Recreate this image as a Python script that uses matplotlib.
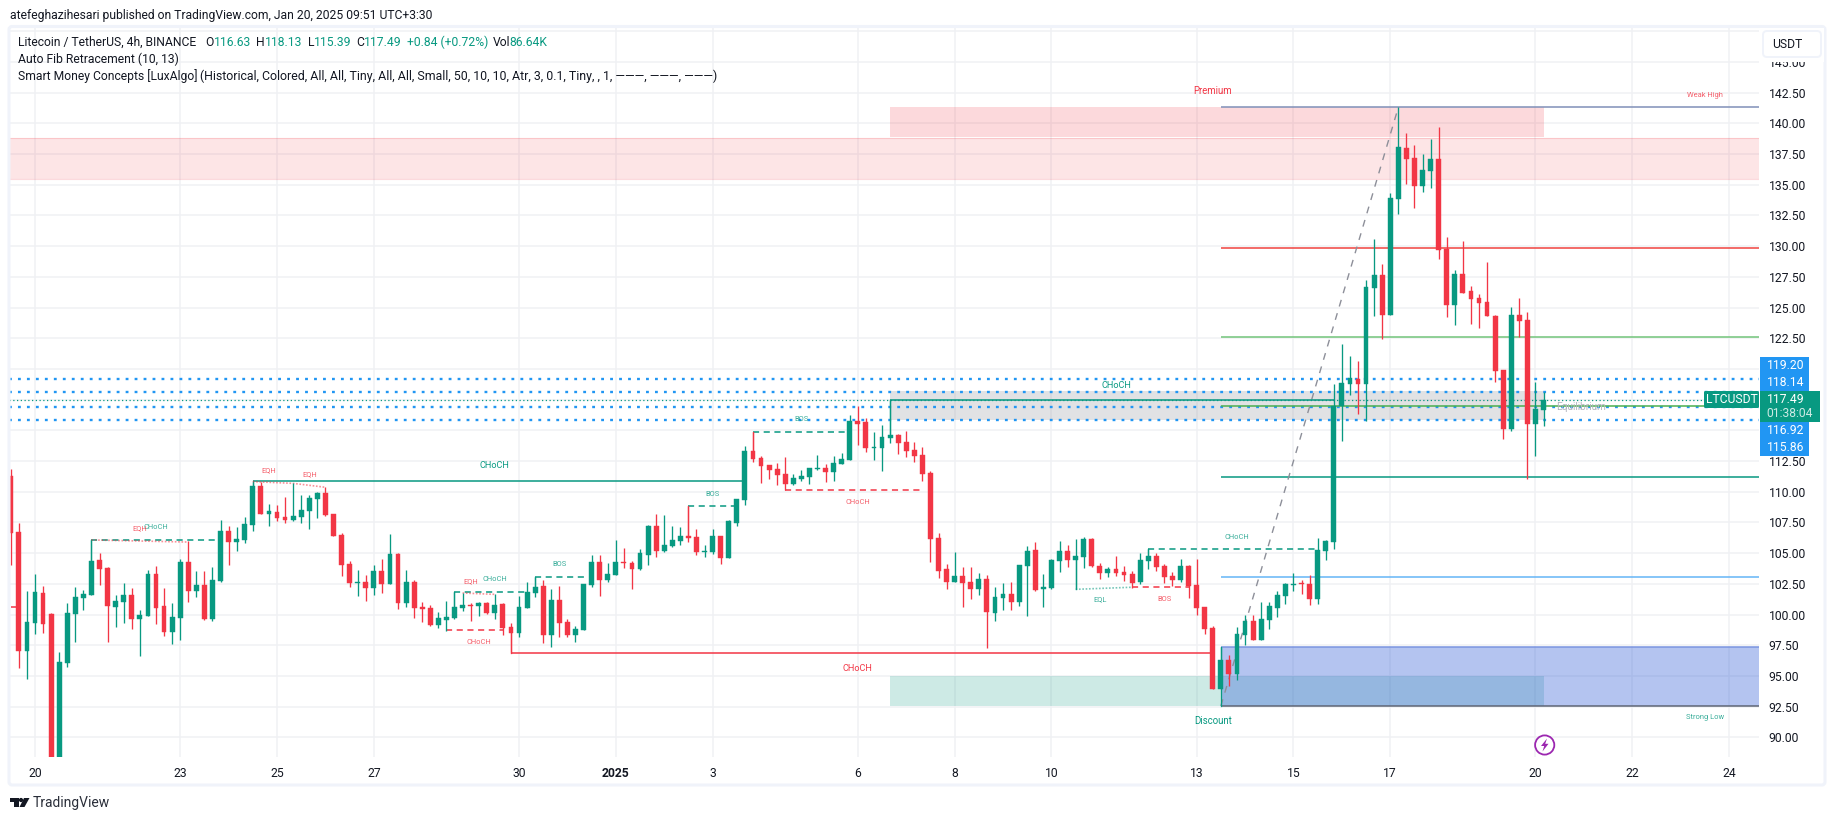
import numpy as np
import matplotlib
matplotlib.use("Agg")
import matplotlib.pyplot as plt
from matplotlib.patches import Rectangle, Circle, Polygon, FancyBboxPatch

plt.rcParams['font.family'] = ['Roboto', 'DejaVu Sans']

# ---- data -------------------------------------------------------------
first_candle = -3   # candles counted from Dec 20 00:00, 4h each
opens = [111.28,106.72,97.06,99.31,101.75,100.04,87.5,96.05,100.04,101.35,101.59,104.44,103.79,100.61,101.02,101.59,99.64,99.88,103.30,100.69,98.58,99.72,104.28,101.92,102.40,99.64,102.73,106.80,105.90,106.07,107.29,110.46,108.18,108.35,107.94,107.70,107.94,108.43,109.41,109.89,108.18,106.48,104.11,102.57,102.65,102.16,103.54,102.48,104.93,100.94,102.65,100.61,100.53,99.15,99.55,99.72,100.53,100.77,100.69,100.94,100.12,100.86,98.98,98.50,100.53,101.75,102.32,98.33,101.18,99.39,98.33,98.74,102.40,104.28,102.81,103.22,
104.28,104.20,103.71,104.85,107.21,105.18,105.58,105.99,106.40,106.32,105.10,105.10,106.40,104.61,107.46,109.33,113.32,112.75,112.18,111.85,111.45,110.63,111.04,111.20,111.85,111.93,111.61,112.26,112.59,115.76,115.68,113.56,113.56,114.38,114.62,114.05,113.40,113.0,111.53,106.24,103.71,102.65,103.14,102.65,102.08,102.90,100.13,101.35,101.68,101.02,103.96,105.26,102.08,102.16,104.36,105.18,104.44,104.69,106.15,103.96,103.39,103.71,103.47,103.30,102.65,104.36,104.77,103.96,103.14,102.82,103.96,102.41,100.62,98.91,
93.94,96.30,95.16,98.34,99.48,97.93,99.56,100.53,101.51,102.41,102.57,102.49,101.27,105.18,105.91,116.98,118.77,119.18,118.77,126.59,127.65,124.39,133.83,137.99,137.17,134.89,136.11,137.09,129.76,125.20,127.73,126.34,125.77,125.45,124.31,119.91,115.10,124.39,123.98,115.51,116.63]
highs = [111.85,107.42,101.92,103.30,102.32,100.12,96.95,100.94,102.24,102.0,106.07,105.01,103.87,101.59,102.57,102.16,100.37,103.63,103.95,102.16,100.94,104.52,105.99,103.54,103.54,103.87,107.70,107.21,107.13,107.94,110.79,110.79,109.0,108.92,109.57,110.71,109.73,109.73,109.98,110.38,108.18,106.64,104.36,103.63,103.22,104.03,104.52,106.56,105.01,103.63,102.81,101.02,100.77,100.21,101.10,101.83,101.75,100.94,101.02,101.02,101.67,100.94,99.31,101.51,102.65,103.05,102.81,102.08,102.32,99.64,99.07,102.48,104.85,104.85,104.20,106.07,
105.42,104.36,105.34,107.29,108.19,108.11,107.21,107.13,108.84,106.97,105.67,106.97,106.40,107.70,109.41,113.73,114.87,112.91,112.18,112.34,112.83,111.45,111.77,111.93,112.99,112.26,112.91,113.16,116.25,116.98,116.01,114.87,115.44,117.47,114.70,114.95,114.05,113.65,111.69,106.64,104.12,105.10,103.87,103.87,103.39,103.22,102.25,102.57,102.65,104.04,105.58,105.91,103.30,104.53,105.99,105.67,106.15,106.32,106.24,104.20,103.87,104.77,103.96,103.55,105.01,105.34,105.01,104.12,103.47,104.53,104.04,104.53,100.62,99.07,
97.33,96.71,98.99,99.96,99.96,101.0,101.0,101.92,102.57,103.38,102.81,103.22,106.23,106.07,118.77,122.03,121.05,120.64,127.24,130.58,128.54,134.32,141.33,139.21,138.23,137.50,138.72,139.70,130.74,128.05,130.42,126.75,126.10,128.71,124.39,119.91,125.04,125.77,124.63,118.93,118.13]
lows = [104.03,95.65,94.75,98.41,98.50,86.5,87.0,95.73,97.76,100.37,101.59,102.40,97.76,98.98,99.31,98.82,96.62,99.88,99.23,98.25,97.60,97.93,101.02,101.43,99.55,99.47,102.65,104.03,105.17,105.82,106.80,108.18,107.21,107.61,107.45,107.61,107.45,106.96,107.86,108.02,106.39,103.14,102.24,101.51,101.10,101.59,101.75,102.48,100.45,100.61,99.72,99.39,99.07,98.90,98.66,99.64,100.29,99.47,99.88,100.04,99.64,98.33,96.84,98.17,100.53,101.43,97.68,97.36,98.17,98.17,97.76,98.74,102.24,101.51,102.65,103.22,
103.79,102.08,103.63,104.04,104.69,105.10,105.50,105.67,105.91,104.85,104.69,104.93,104.12,104.61,107.21,108.92,112.42,110.71,111.04,110.55,110.14,110.55,110.88,110.63,111.77,110.80,110.88,112.26,112.59,113.81,113.24,112.59,111.69,113.97,113.08,112.83,112.42,110.88,104.28,102.98,102.08,102.65,100.62,101.27,101.59,97.28,99.48,100.37,100.37,100.70,99.88,101.92,100.62,102.08,103.47,103.87,102.08,103.79,103.87,102.90,103.06,103.14,102.73,102.16,102.49,103.71,103.55,102.57,102.33,102.65,101.35,99.97,98.42,93.94,
93.94,94.18,94.67,97.52,97.93,97.93,98.83,99.80,100.86,101.92,101.67,100.78,100.86,104.44,105.34,114.13,117.88,116.33,115.76,124.31,122.44,124.39,132.61,135.06,133.10,134.40,134.73,128.95,124.23,123.58,126.18,123.66,123.33,124.31,118.93,114.30,114.94,122.60,111.03,112.90,115.39]
closes = [106.66,97.06,99.39,101.83,99.23,87.5,96.13,100.12,101.43,101.67,104.36,103.71,100.69,101.10,101.59,99.64,99.96,103.30,100.53,98.58,99.80,104.28,101.92,102.40,99.64,102.81,106.80,105.90,106.15,107.37,110.46,108.18,108.43,107.86,107.70,108.02,108.51,109.49,109.89,108.10,106.39,104.03,102.57,102.65,102.16,103.54,102.48,104.93,100.94,102.65,100.53,100.45,99.15,99.72,99.80,100.61,100.77,100.69,100.94,100.12,100.77,98.90,98.50,100.61,101.83,102.24,98.33,101.18,99.31,98.33,98.82,102.48,104.28,102.81,103.30,104.28,
104.20,103.71,105.01,107.21,105.18,105.67,106.07,106.40,106.24,105.10,105.18,106.40,104.61,107.62,109.41,113.32,112.67,112.10,111.77,111.37,110.63,111.12,111.28,111.93,111.93,111.61,112.34,112.67,115.76,115.52,113.56,113.65,114.46,114.62,113.97,113.32,112.91,111.45,106.15,103.55,102.65,103.14,102.57,102.08,102.90,100.21,101.43,101.68,101.02,104.04,105.18,102.0,102.25,104.44,105.18,104.44,104.77,106.15,103.96,103.39,103.71,103.39,103.22,102.57,104.44,104.77,103.87,103.06,102.82,103.96,102.33,100.54,98.83,93.94,
96.30,95.16,98.42,99.48,97.93,99.64,100.70,101.59,102.49,102.49,102.49,101.27,105.26,105.99,116.98,118.85,119.26,118.77,126.67,127.65,124.39,133.92,138.07,137.09,134.89,136.20,137.09,129.68,125.20,127.73,126.18,125.69,125.36,124.31,119.83,115.10,124.39,123.90,115.51,116.73,117.49]

price_ticks = [90, 92.5, 95, 97.5, 100, 102.5, 105, 107.5, 110, 112.5, 115, 117.5, 120, 122.5,
               125, 127.5, 130, 132.5, 135, 137.5, 140, 142.5, 145, 147.5]
hidden_price_labels = [115, 117.5, 120, 147.5]   # covered by tags in the reference
day_offsets = [0, 3, 5, 7, 10, 12, 14, 17, 19, 21, 24, 26, 28, 31, 33, 35]
day_labels = ['20', '23', '25', '27', '30', '2025', '3', '6', '8', '10', '13', '15', '17', '20', '22', '24']

GREEN, RED = '#089981', '#f23645'
blue_levels = [119.20, 118.14, 116.92, 115.86]
last_price = 117.49

# zones: start candle, end candle, low, high, colour, alpha
zones = [
    (-3.3, 214, 135.44, 138.78, RED, 0.13),
    (106, 187, 138.9, 141.3, RED, 0.19),
    (106, 187, 115.84, 118.2, '#787b86', 0.22),
    (106, 187, 92.55, 95.0, GREEN, 0.2),
    (147, 214, 92.55, 97.33, '#3a64d8', 0.38),
]
# auto fib levels: price, colour
fib_levels = [(141.3, '#8090b8'), (129.82, '#f0433f'), (122.62, '#72c47a'),
              (116.98, '#4caf50'), (111.17, '#089981'), (103.03, '#64b5f6'),
              (97.33, '#7a94e0'), (92.55, '#5f6675')]
fib_start = 147
fib_trend = ([147, 169], [92.55, 141.3])

# structure lines: start, end, price, colour
solid_lines = [(27, 88, 110.84, GREEN), (106, 161, 117.47, GREEN), (59, 146, 96.84, RED), (-3, -2, 100.58, RED)]
dashed_lines = [(7, 23, 106.07, GREEN), (52, 61, 101.8, GREEN), (62, 68, 103.03, GREEN),
                (81, 87, 108.81, GREEN), (89, 101, 114.84, GREEN), (138, 159, 105.31, GREEN),
                (51, 58, 98.71, RED), (93, 110, 110.11, RED), (136, 143, 102.22, RED)]
stems = [(7, 104.4, 106.07, GREEN), (27, 110.4, 110.84, GREEN), (52, 100.6, 101.8, GREEN),
         (62, 102.2, 103.03, GREEN), (81, 106.4, 108.81, RED), (89, 113.3, 114.84, RED),
         (106, 114.6, 117.47, GREEN), (59, 96.84, 98.5, RED), (129, 102.05, 104.4, GREEN),
         (138, 104.7, 105.31, GREEN), (147, 92.55, 97.33, GREEN)]
eq_lines = [([7, 19], [106.07, 105.9], RED), ([27, 32, 36], [110.82, 110.68, 110.36], RED),
            ([53, 57], [101.75, 101.64], RED), ([129, 136], [102.05, 102.22], GREEN)]

# labels: text, candle position, price, colour, size
labels = [
    ('CHoCH', 57.0, 112.1, GREEN, 6.6), ('CHoCH', 15.0, 107.1, GREEN, 5.4), ('EQH', 13.0, 107.0, RED, 5.4),
    ('EQH', 29.0, 111.74, RED, 5.4), ('EQH', 34.0, 111.41, RED, 5.4), ('EQH', 54.0, 102.7, RED, 5.4),
    ('CHoCH', 57.0, 102.86, GREEN, 5.4), ('CHoCH', 55.0, 97.73, RED, 5.4), ('BOS', 65.0, 104.08, GREEN, 5.4),
    ('BOS', 84.0, 109.79, GREEN, 5.4), ('BOS', 95.0, 115.9, GREEN, 5.4), ('CHoCH', 102.0, 109.14, RED, 5.4),
    ('CHoCH', 102.0, 95.62, RED, 6.6), ('CHoCH', 134.0, 118.67, GREEN, 6.6), ('CHoCH', 149.0, 106.29, GREEN, 5.4),
    ('EQL', 132.0, 101.24, GREEN, 5.4), ('BOS', 140.0, 101.24, RED, 5.4),
    ('Premium', 146.0, 142.6, RED, 6.9), ('Discount', 146.0, 91.3, GREEN, 6.9),
    ('Weak High', 207.0, 142.3, RED, 5.4), ('Strong Low', 207.0, 91.65, GREEN, 5.4),
    ('Equilibrium', 191.6, 116.9, '#b2b5be', 7.2),
]

legend_line1 = [('Litecoin / TetherUS, 4h, BINANCE', 18, '#131722'), ('O', 205, '#131722'), ('116.63', 214, GREEN),
                ('H', 256, '#131722'), ('118.13', 265, GREEN), ('L', 308, '#131722'), ('115.39', 314, GREEN),
                ('C', 356, '#131722'), ('117.49', 364, GREEN), ('+0.84 (+0.72%)', 407, GREEN),
                ('Vol', 493, '#131722'), ('86.64K', 509, GREEN)]
legend_line2 = 'Auto Fib Retracement (10, 13)'
legend_line3a = 'Smart Money Concepts [LuxAlgo]'
legend_line3b = '(Historical, Colored, All, All, Tiny, All, All, Small, 50, 10, 10, Atr, 3, 0.1, Tiny, , 1, \u2014\u2014\u2014, \u2014\u2014\u2014, \u2014\u2014\u2014)'
header = 'atefeghazihesari published on TradingView.com, Jan 20, 2025 09:51 UTC+3:30'
price_tags = [('119.20', 365.7), ('118.14', 382.7), ('116.92', 430.7), ('115.86', 447.7)]

# ---- layout ------------------------------------------------------------
W, H = 1835, 821
PX0, PX1, PY0, PY1 = 9, 1759, 27, 757
FS = 8.7
fig = plt.figure(figsize=(W / 100, H / 100), dpi=100, facecolor='white')
ax = fig.add_axes([PX0 / W, 1 - PY1 / H, (PX1 - PX0) / W, (PY1 - PY0) / H])
ax.set_xlim((PX0 - 35) / 8.067, (PX1 - 35) / 8.067)
ax.set_ylim(90 - (PY1 - 737.3) / 12.28, 90 + (737.3 - PY0) / 12.28)
for s in ax.spines.values():
    s.set_visible(False)
ax.set_axisbelow(True)
ax.grid(True, color='#f0f1f4', lw=1.1, zorder=0)

ax.yaxis.tick_right()
ax.set_yticks(price_ticks)
ax.set_yticklabels(['' if p in hidden_price_labels else f'{p:.2f}' for p in price_ticks])
ax.set_xticks([d * 6 for d in day_offsets])
ax.set_xticklabels(day_labels)
ax.tick_params(length=0, labelsize=FS, labelcolor='#131722')
ax.tick_params(axis='y', pad=7)
ax.tick_params(axis='x', pad=7)
ax.get_xticklabels()[5].set_fontweight('bold')

# zones
for x0, x1, lo, hi, c, a in zones:
    ax.add_patch(Rectangle((x0, lo), x1 - x0, hi - lo, fc=c, alpha=a, ec='none', zorder=1))
ax.plot([-3.3, 214], [138.78, 138.78], color=RED, alpha=0.18, lw=0.8, zorder=1)
ax.plot([-3.3, 214], [135.44, 135.44], color=RED, alpha=0.18, lw=0.8, zorder=1)

# dotted levels
for lv in blue_levels:
    ax.axhline(lv, color='#2196f3', lw=1.7, dashes=(1.2, 2.6), zorder=2)
ax.axhline(last_price, color=GREEN, lw=0.9, dashes=(1, 2), zorder=2)

# fib
for p, c in fib_levels:
    ax.plot([fib_start, 214], [p, p], color=c, lw=1.1, zorder=2, solid_capstyle='butt')
ax.plot(fib_trend[0], fib_trend[1], color='#8d8f99', lw=1.0, dashes=(5, 5), zorder=2)

# structure
for a, b, p, c in solid_lines:
    ax.plot([a, b], [p, p], color=c, lw=1.1, zorder=2.5, solid_capstyle='butt')
for a, b, p, c in dashed_lines:
    ax.plot([a, b], [p, p], color=c, lw=1.1, dashes=(4, 3), zorder=2.5)
for i, lo, hi, c in stems:
    ax.plot([i, i], [lo, hi], color=c, lw=0.9, zorder=2.5)
for xs, ys, c in eq_lines:
    ax.plot(xs, ys, color=c, lw=1.2, alpha=0.55, dashes=(1, 1), zorder=2.5)
for t, x, y, c, fs in labels:
    ax.text(x, y, t, color=c, fontsize=fs, ha='center', va='center', alpha=0.8 if fs < 6 else 1, zorder=3, clip_on=True)

# candles
o, h, l, cl = map(np.array, (opens, highs, lows, closes))
idx = np.arange(len(o)) + first_candle
cols = np.where(cl >= o, GREEN, RED)
ax.vlines(idx, l, h, colors=cols, lw=0.95, zorder=4)
ax.bar(idx, np.abs(cl - o), bottom=np.minimum(o, cl), width=0.6, color=cols, edgecolor=cols, linewidth=0.3, zorder=5)

# ---- chrome in pixel coordinates ----------------------------------------
ov = fig.add_axes([0, 0, 1, 1], facecolor='none')
ov.set_xlim(0, W)
ov.set_ylim(H, 0)
ov.axis('off')
ov.add_patch(FancyBboxPatch((9, 26.5), 1816, 758.5, boxstyle='round,pad=0,rounding_size=3',
                            fc='none', ec='#f0f3fa', lw=2.2, zorder=1))
ov.add_patch(Rectangle((1760, 28), 64, 34, fc='white', ec='none', zorder=2))
ov.add_patch(FancyBboxPatch((1763, 31), 58, 26, boxstyle='round,pad=0,rounding_size=4',
                            fc='white', ec='#f0f3fa', lw=1.4, zorder=3))
ov.text(1772, 44.5, 'USDT', fontsize=FS, color='#131722', va='center', zorder=4)

ov.text(10, 15, header, fontsize=FS, color='#131722', va='center')
for t, x, c in legend_line1:
    ov.text(x, 42, t, fontsize=FS, color=c, va='center')
ov.text(18, 59.5, legend_line2, fontsize=FS, color='#131722', va='center')
ov.text(18, 76.5, legend_line3a, fontsize=FS, color='#131722', va='center')
ov.text(200, 76.5, legend_line3b, fontsize=8.9, color='#131722', va='center')

# price tags
ov.add_patch(Rectangle((1760, 356.7), 49, 99, fc='#2196f3', ec='none', zorder=5))
for t, y in price_tags:
    ov.text(1786, y, t, fontsize=FS, color='white', ha='center', va='center', zorder=6)
ov.add_patch(Rectangle((1760, 391), 60, 30.7, fc=GREEN, ec='none', zorder=7))
ov.text(1786, 399.5, f'{last_price:.2f}', fontsize=FS, color='white', ha='center', va='center', zorder=8)
ov.text(1790, 413.5, '01:38:04', fontsize=FS, color='#cdeae4', ha='center', va='center', zorder=8)
ov.add_patch(FancyBboxPatch((1704, 391), 55, 17, boxstyle='round,pad=0,rounding_size=1.5',
                            fc=GREEN, ec='none', zorder=7))
ov.text(1731.5, 399.5, 'LTCUSDT', fontsize=FS, color='white', ha='center', va='center', zorder=8)

# lightning icon
ov.add_patch(Circle((1544.7, 745), 9.6, fc='white', ec='#9c27b0', lw=1.3, zorder=6))
ov.add_patch(Polygon([(1547, 738.5), (1541, 746), (1544.2, 746), (1542.5, 751.5), (1548.5, 743.8), (1545.2, 743.8)],
                     fc='#9c27b0', ec='none', zorder=7))

# TradingView mark
ov.add_patch(Polygon([(10, 798), (18.5, 798), (18.5, 807), (14, 807), (14, 802), (10, 802)], fc='#131722', ec='none'))
ov.add_patch(Circle((21, 800), 2.1, fc='#131722', ec='none'))
ov.add_patch(Polygon([(24, 798), (29.5, 798), (24.5, 807), (19.5, 807)], fc='#131722', ec='none'))
ov.text(33, 803, 'TradingView', fontsize=10, color='#2a2e39', va='center')

fig.savefig('out.png', dpi=100)
